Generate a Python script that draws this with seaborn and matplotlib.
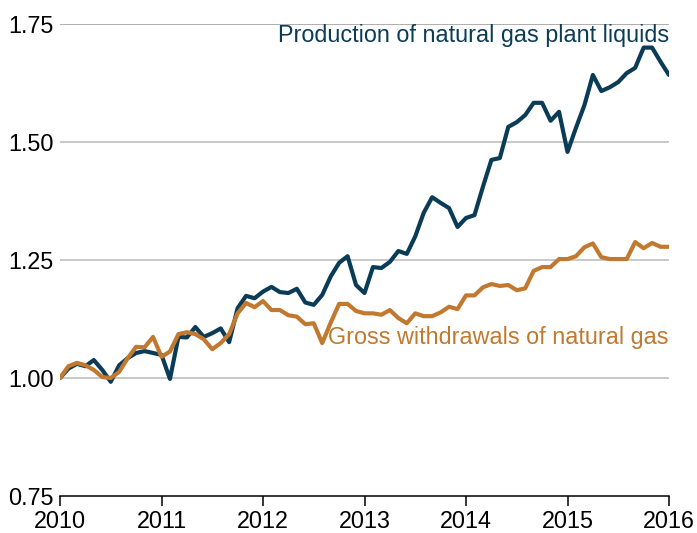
import numpy as np
import pandas as pd
import matplotlib
matplotlib.use("Agg")
import matplotlib.pyplot as plt
import seaborn as sns

# Monthly index values, January 2010 = 1.00 (Jan 2010 .. Jan 2016)
months = pd.date_range("2010-01-01", "2016-01-01", freq="MS")

plant_liquids = [
    1.000, 1.020, 1.030, 1.025, 1.038, 1.017, 0.992, 1.027, 1.042, 1.053, 1.057, 1.053,
    1.049, 0.998, 1.087, 1.086, 1.108, 1.087, 1.095, 1.105, 1.076, 1.148, 1.174, 1.169,
    1.183, 1.193, 1.182, 1.180, 1.189, 1.160, 1.155, 1.176, 1.215, 1.244, 1.258, 1.197,
    1.180, 1.235, 1.233, 1.246, 1.269, 1.263, 1.300, 1.350, 1.383, 1.371, 1.360, 1.320,
    1.339, 1.345, 1.405, 1.462, 1.466, 1.532, 1.542, 1.557, 1.583, 1.583, 1.545, 1.564,
    1.479, 1.530, 1.578, 1.642, 1.608, 1.616, 1.627, 1.646, 1.657, 1.700, 1.700, 1.670,
    1.642,
]

gross_withdrawals = [
    1.000, 1.025, 1.032, 1.027, 1.017, 1.002, 1.000, 1.013, 1.042, 1.066, 1.065, 1.087,
    1.045, 1.056, 1.093, 1.097, 1.093, 1.082, 1.061, 1.074, 1.093, 1.137, 1.159, 1.150,
    1.163, 1.144, 1.144, 1.133, 1.130, 1.114, 1.116, 1.074, 1.117, 1.157, 1.157, 1.142,
    1.137, 1.137, 1.134, 1.144, 1.127, 1.116, 1.137, 1.131, 1.131, 1.139, 1.151, 1.146,
    1.175, 1.175, 1.192, 1.199, 1.195, 1.197, 1.186, 1.190, 1.227, 1.235, 1.235, 1.252,
    1.252, 1.258, 1.277, 1.285, 1.256, 1.252, 1.252, 1.252, 1.288, 1.275, 1.286, 1.278,
    1.278,
]

series_names = ["Production of natural gas plant liquids", "Gross withdrawals of natural gas"]
series_colors = ["#0b3c57", "#c1782f"]
year_ticks = [2010, 2011, 2012, 2013, 2014, 2015, 2016]
y_ticks = [0.75, 1.00, 1.25, 1.50, 1.75]

# decimal-year positions for each month
x_years = months.year + (months.month - 1) / 12.0

df = pd.concat([
    pd.DataFrame({"year": x_years, "value": plant_liquids, "series": series_names[0]}),
    pd.DataFrame({"year": x_years, "value": gross_withdrawals, "series": series_names[1]}),
])

sns.set_theme(style="white")
plt.rcParams["font.family"] = ["Liberation Sans", "DejaVu Sans"]

fig = plt.figure(figsize=(6.97, 5.33), dpi=100)
ax = fig.add_axes([60 / 697, 37 / 533, 609 / 697, 472 / 533])

# horizontal reference lines
for yv in y_ticks[1:]:
    ax.axhline(yv, color="#a8a8a8" if yv == 1.75 else "#c4c4c4", lw=1.3, zorder=0)

sns.lineplot(
    data=df, x="year", y="value", hue="series",
    palette=dict(zip(series_names, series_colors)),
    linewidth=3.0, legend=False, ax=ax, zorder=3,
)

ax.set_xlim(2010, 2016)
ax.set_ylim(0.75, 1.75)
ax.set_xticks(year_ticks)
ax.set_xticklabels([str(y) for y in year_ticks])
ax.set_yticks(y_ticks)
ax.set_yticklabels([f"{v:.2f}" for v in y_ticks])
ax.set_xlabel("")
ax.set_ylabel("")

for side in ["left", "right", "top"]:
    ax.spines[side].set_visible(False)
ax.spines["bottom"].set_color("black")
ax.spines["bottom"].set_linewidth(1.1)

ax.tick_params(axis="x", direction="out", length=7, width=1.1, color="black",
               labelsize=16.8, pad=3, labelcolor="black", bottom=True)
ax.tick_params(axis="y", length=0, labelsize=16.8, pad=4.5, labelcolor="black")

ax.text(2016, 1.726, series_names[0], color=series_colors[0], fontsize=16.8,
        ha="right", va="center")
ax.text(2016, 1.085, series_names[1], color=series_colors[1], fontsize=16.8,
        ha="right", va="center")

fig.savefig("out.png", dpi=100)
